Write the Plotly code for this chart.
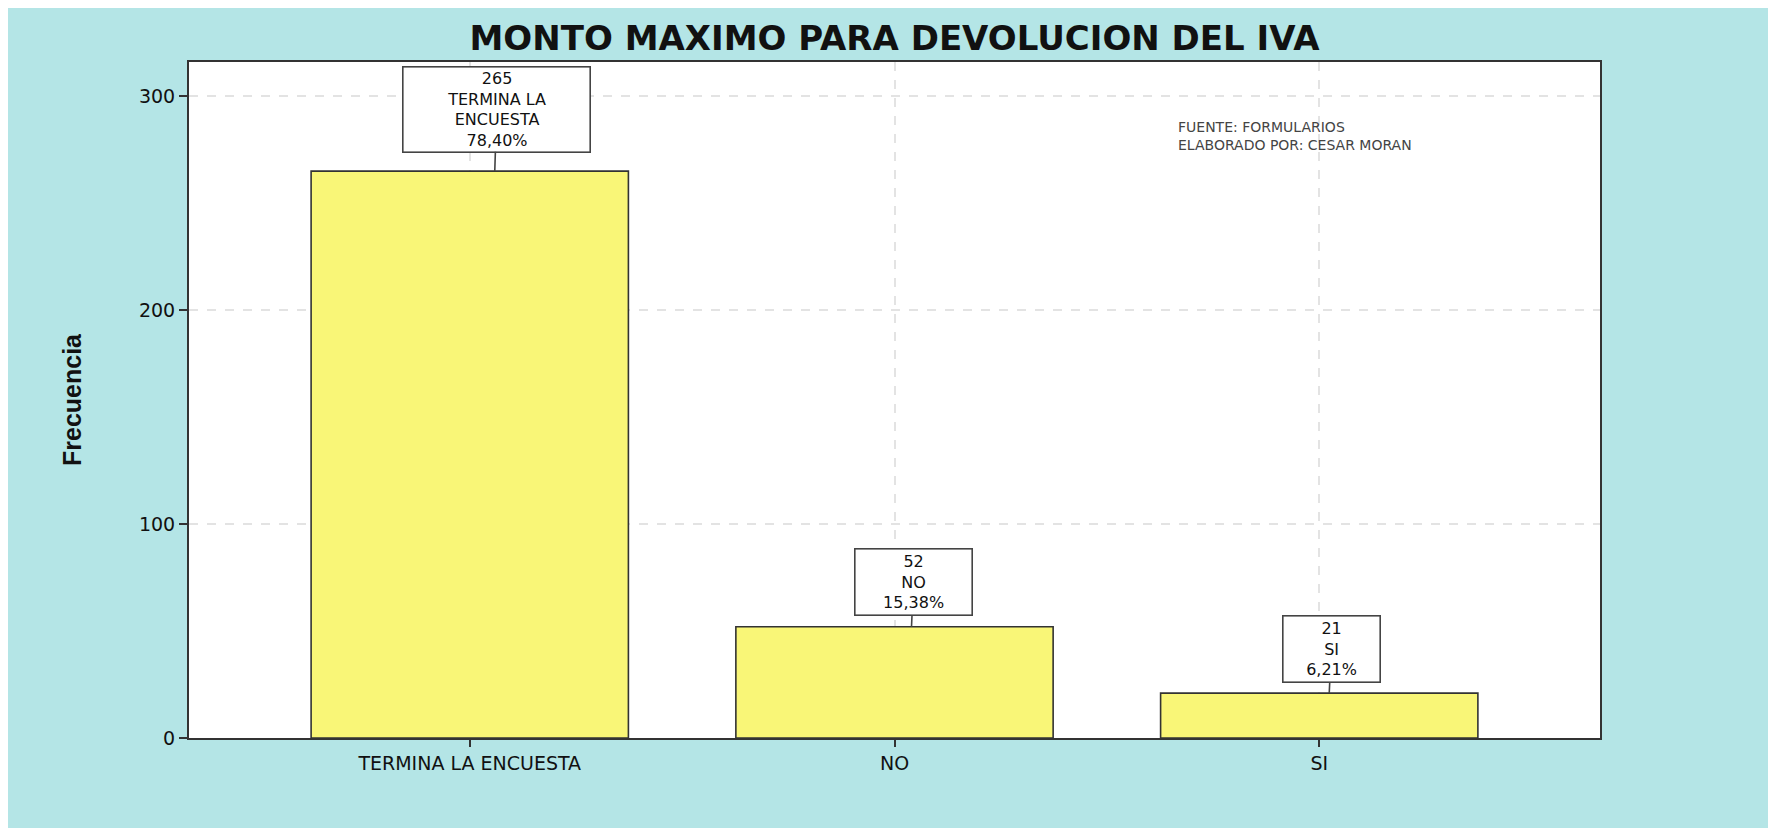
import plotly.graph_objects as go

# Data
categorias = ["TERMINA LA ENCUESTA", "NO", "SI"]
frecuencias = [265, 52, 21]
porcentajes = ["78,40%", "15,38%", "6,21%"]
etiquetas_caja = ["TERMINA LA<br>ENCUESTA", "NO", "SI"]
y_ticks = [0, 100, 200, 300]

# Label box styling (per bar)
box_w = [184, 114, 94]
box_h = [82, 63, 63]
box_dx = [25, 17, 10]
box_dy = [-62, -45, -44]

CYAN = "#b4e5e6"
YELLOW = "#f9f677"

# page body adds an 8px margin, so the figure is a bit smaller than the window
W, H = 1768, 820
ML, MR, MT, MB = 181, 176, 54, 90

fig = go.Figure()

fig.add_trace(go.Bar(
    x=categorias,
    y=frecuencias,
    width=0.747,
    marker=dict(color=YELLOW, line=dict(color="#333333", width=1.6)),
    hoverinfo="x+y",
))

# Boxed labels with connector lines
for i, (cat, val) in enumerate(zip(categorias, frecuencias)):
    fig.add_annotation(
        x=cat, y=val,
        text=f"{val}<br>{etiquetas_caja[i]}<br>{porcentajes[i]}",
        showarrow=True, arrowhead=0, arrowwidth=1.6, arrowcolor="#444444",
        ax=2, ay=box_dy[i], xshift=box_dx[i],
        width=box_w[i], height=box_h[i],
        bgcolor="white", bordercolor="#444444", borderwidth=1.6, borderpad=1,
        font=dict(family="DejaVu Sans", size=16, color="#111111"),
        align="center", valign="middle",
    )

# Source note
fig.add_annotation(
    xref="x domain", yref="y domain", x=0.6995, y=0.918,
    xanchor="left", yanchor="top", showarrow=False, align="left",
    text="FUENTE: FORMULARIOS<br>ELABORADO POR: CESAR MORAN",
    font=dict(family="DejaVu Sans", size=14, color="#444444"),
)

fig.update_layout(
    width=W, height=H,
    margin=dict(l=ML, r=MR, t=MT, b=MB),
    paper_bgcolor=CYAN,
    plot_bgcolor="white",
    showlegend=False,
    title=dict(
        text="<b>MONTO MAXIMO PARA DEVOLUCION DEL IVA</b>",
        x=(ML + (W - ML - MR) / 2) / W, xanchor="center", y=1 - 30 / H, yanchor="middle",
        font=dict(family="DejaVu Sans", size=34, color="#111111"),
    ),
    font=dict(family="DejaVu Sans", color="#111111"),
)

fig.update_xaxes(
    range=[-0.661, 2.661],
    showline=True, linecolor="#333333", linewidth=2, mirror=True,
    ticks="outside", ticklen=7, tickwidth=2, tickcolor="#333333",
    showgrid=True, gridcolor="#e3e3e3", gridwidth=1.5, griddash="dash",
    tickfont=dict(family="DejaVu Sans", size=19, color="#111111"),
)

fig.update_yaxes(
    range=[0, 316],
    tickvals=y_ticks,
    showline=True, linecolor="#333333", linewidth=2, mirror=True,
    ticks="outside", ticklen=8, tickwidth=2, tickcolor="#333333",
    showgrid=True, gridcolor="#e3e3e3", gridwidth=1.5, griddash="dash",
    zeroline=False,
    tickfont=dict(family="DejaVu Sans", size=19, color="#111111"),
    title=dict(text="<b>Frecuencia</b>", standoff=50,
               font=dict(family="Liberation Sans Narrow, Arial Narrow, sans-serif",
                         size=25, color="#111111")),
)

fig.write_html("out.html")
